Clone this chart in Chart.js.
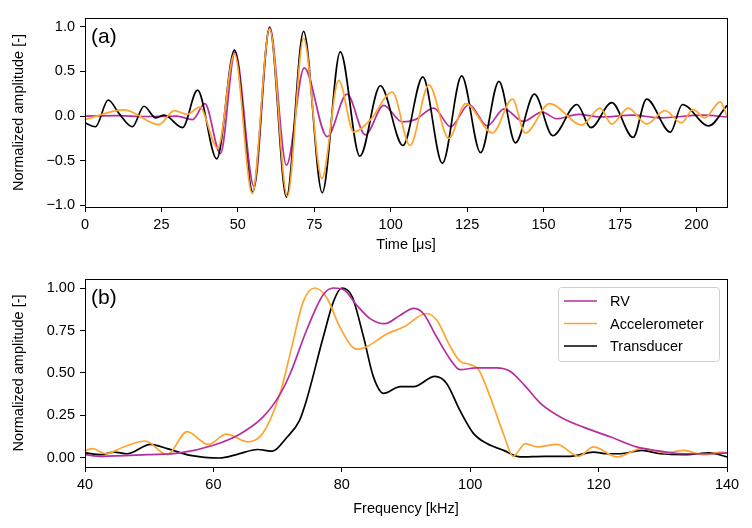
<!DOCTYPE html>
<html>
<head>
<meta charset="utf-8">
<script src="https://cdn.jsdelivr.net/npm/chart.js@4.4.1/dist/chart.umd.min.js"></script>
<style>
  body { margin: 0; background: #fff; }
  #wrap { position: relative; width: 752px; height: 528px; }
  .panel { position: absolute; left: 0; width: 752px; height: 264px; }
</style>
</head>
<body>
<div id="wrap">
  <div class="panel" style="top:0"><canvas id="chartA"></canvas></div>
  <div class="panel" style="top:264px"><canvas id="chartB"></canvas></div>
</div>
<script>
// (a) time signals, extrema
const rvTime  = [0, 10, 20, 30, 35.2, 39.2, 44.3, 49.1, 55.3, 60.4, 65.9, 71.7, 79.2, 85.7, 91.7, 97.7, 103.7, 108, 114.1, 119.6, 125.6, 131.6, 137.1, 143.3, 149.5, 154.3, 161.4, 168.5, 179.3, 188, 202, 210];
const rvAmp   = [0, 0.005, -0.005, 0, -0.04, 0.14, -0.42, 0.72, -0.79, 1.0, -0.55, 0.54, -0.23, 0.245, -0.21, 0.12, -0.065, -0.04, 0.09, -0.12, 0.13, -0.11, 0.08, -0.06, 0.045, -0.03, 0.02, -0.01, 0.01, -0.02, 0.01, -0.01];
const accTime = [0, 12.7, 24.2, 29.2, 33.5, 37.5, 43.4, 48.9, 54.7, 60.4, 66.2, 71.5, 77.5, 83, 87.9, 93.4, 100.5, 106.3, 112.5, 119, 124.5, 133.3, 139.8, 144, 152, 162.5, 168.5, 172.3, 177.7, 183.7, 189.7, 195.1, 198.9, 202.7, 207.8, 210];
const accAmp  = [-0.04, 0.07, -0.095, 0.06, 0.02, 0.10, -0.36, 0.70, -0.87, 0.98, -0.90, 0.87, -0.70, 0.40, -0.18, -0.04, 0.27, -0.33, 0.35, -0.25, 0.14, -0.19, 0.19, -0.19, 0.14, -0.10, 0.09, -0.09, 0.09, -0.09, 0.06, -0.075, 0.075, -0.02, 0.16, 0.0];
const trTime  = [0, 3.4, 7.6, 11.1, 15.5, 19.3, 23.1, 25.9, 31.9, 36.8, 43.1, 48.9, 54.9, 60.4, 65.9, 71.5, 77.6, 83.5, 89.9, 96.6, 104, 110.5, 116.9, 123.2, 129.4, 135.4, 140.8, 147, 153, 160.9, 165.5, 172.3, 179.3, 183.7, 191.5, 195.4, 204, 210];
const trAmp   = [-0.075, -0.12, 0.18, 0.03, -0.12, 0.11, -0.02, 0.01, -0.13, 0.29, -0.48, 0.74, -0.85, 0.99, -0.91, 0.95, -0.86, 0.72, -0.45, 0.34, -0.33, 0.44, -0.53, 0.45, -0.41, 0.39, -0.30, 0.245, -0.22, 0.13, -0.13, 0.15, -0.24, 0.19, -0.18, 0.13, -0.11, 0.12];

// (b) spectra
const rvFreq  = [40, 42.5, 49.7, 54.8, 60, 64.1, 67.7, 70.3, 72, 74.5, 77.1, 78.7, 80.3, 82.3, 84.4, 86.7, 89.1, 91.2, 92.7, 94.8, 96.9, 98.4, 101, 104.1, 106.2, 108.4, 111, 114.1, 117.7, 121.8, 125.9, 129.6, 133.2, 137.3, 140];
const rvSpec  = [0.02, 0.01, 0.02, 0.03, 0.075, 0.14, 0.24, 0.37, 0.50, 0.75, 0.96, 1.0, 0.99, 0.90, 0.82, 0.79, 0.84, 0.88, 0.85, 0.71, 0.58, 0.52, 0.53, 0.53, 0.51, 0.43, 0.32, 0.24, 0.18, 0.125, 0.065, 0.04, 0.025, 0.025, 0.03];
const accFreq = [40, 41.2, 43.2, 46, 49.4, 52.8, 55.9, 59.2, 62, 65.4, 67.7, 70.3, 72, 74, 75.8, 77.7, 79.7, 82.3, 83.9, 87, 89.6, 93.2, 94.8, 96.9, 98.4, 100, 101.3, 103.1, 105.2, 106.7, 108.6, 110.4, 113.5, 116.9, 119.2, 122.9, 126.7, 130.6, 133.2, 136.3, 139.4, 140];
const accSpec = [0.045, 0.055, 0.025, 0.065, 0.10, 0.02, 0.155, 0.08, 0.14, 0.095, 0.145, 0.37, 0.62, 0.92, 1.0, 0.94, 0.77, 0.64, 0.655, 0.73, 0.77, 0.85, 0.81, 0.655, 0.57, 0.55, 0.52, 0.36, 0.14, 0.01, 0.085, 0.065, 0.08, 0.01, 0.065, 0.006, 0.055, 0.03, 0.045, 0.02, 0.035, 0.03];
const trFreq  = [40, 42.5, 44.5, 46.6, 50.2, 52.8, 56.4, 61, 63.6, 66.9, 69.2, 71.3, 73.4, 74.5, 77.1, 78.7, 80, 81.6, 83.4, 84.9, 86.5, 89.1, 91.2, 94.5, 96.3, 98.4, 100.5, 102.6, 105.2, 107.8, 111.5, 115.6, 119.2, 121.3, 123.4, 126.7, 129.6, 133.7, 137.3, 140];
const trSpec  = [0.03, 0.02, 0.035, 0.025, 0.08, 0.055, 0.015, 0.0, 0.02, 0.05, 0.04, 0.115, 0.22, 0.34, 0.71, 0.92, 1.0, 0.95, 0.71, 0.48, 0.38, 0.42, 0.42, 0.48, 0.44, 0.28, 0.145, 0.085, 0.045, 0.006, 0.01, 0.01, 0.035, 0.025, 0.025, 0.045, 0.025, 0.02, 0.03, 0.006];

const seriesNames = ['RV', 'Accelerometer', 'Transducer'];
const timeTicks = [0, 25, 50, 75, 100, 125, 150, 175, 200];
const ampTicksA = [-1.0, -0.5, 0.0, 0.5, 1.0];
const freqTicks = [40, 60, 80, 100, 120, 140];
const ampTicksB = [0, 0.25, 0.5, 0.75, 1.0];

const PURPLE = '#b52e9f';
const ORANGE = '#ffa42e';
const BLACK = '#000000';

Chart.defaults.font.family = '"Liberation Sans", Arial, sans-serif';
Chart.defaults.font.size = 14.5;
Chart.defaults.color = '#000';

function pts(xs, ys) {
  return xs.map((x, i) => ({ x: x, y: ys[i] }));
}

function line(label, xs, ys, color) {
  return {
    label: label,
    data: pts(xs, ys),
    borderColor: color,
    backgroundColor: color,
    borderWidth: 1.7,
    pointRadius: 0,
    fill: false,
    cubicInterpolationMode: 'monotone'
  };
}

function fmt(v, digits) {
  return v.toFixed(digits).replace('-', '\u2212');
}

const framePlugin = {
  id: 'frame',
  afterDraw(chart, args, opts) {
    const { ctx, chartArea: a } = chart;
    ctx.save();
    ctx.strokeStyle = '#000';
    ctx.lineWidth = 1;
    ctx.strokeRect(Math.round(a.left) + 0.5, Math.round(a.top) + 0.5,
      Math.round(a.right - a.left), Math.round(a.bottom - a.top));
    ctx.fillStyle = '#000';
    ctx.font = '21px "Liberation Sans", Arial, sans-serif';
    ctx.textBaseline = 'top';
    ctx.fillText(opts.tag, a.left + 6, a.top + 9);

    if (opts.legend) {
      const w = 161, h = 74;
      const x = a.right - 8 - w, y = a.top + 8;
      ctx.beginPath();
      ctx.roundRect(x + 0.5, y + 0.5, w, h, 3);
      ctx.fillStyle = 'rgba(255,255,255,0.8)';
      ctx.fill();
      ctx.strokeStyle = '#d0d0d0';
      ctx.stroke();
      ctx.font = '14.5px "Liberation Sans", Arial, sans-serif';
      ctx.textBaseline = 'middle';
      chart.data.datasets.forEach((ds, i) => {
        const ly = y + 14 + i * 22.5;
        ctx.strokeStyle = ds.borderColor;
        ctx.lineWidth = 1.7;
        ctx.beginPath();
        ctx.moveTo(x + 6, ly);
        ctx.lineTo(x + 39, ly);
        ctx.stroke();
        ctx.fillStyle = '#000';
        ctx.fillText(ds.label, x + 52, ly + 1);
      });
    }
    ctx.restore();
  }
};

function axes(xMin, xMax, xTicks, xTitle, yMin, yMax, yTicks, yDigits, xHeight) {
  return {
    x: {
      type: 'linear',
      min: xMin,
      max: xMax,
      afterBuildTicks: s => { s.ticks = xTicks.map(v => ({ value: v })); },
      afterFit: s => { s.height = xHeight; },
      grid: { drawOnChartArea: false, drawTicks: true, tickLength: 5, color: '#000' },
      border: { display: true, color: '#000' },
      ticks: { padding: 4, maxRotation: 0, callback: v => String(v) },
      title: { display: true, text: xTitle, padding: { top: 0, bottom: 10 } }
    },
    y: {
      type: 'linear',
      min: yMin,
      max: yMax,
      afterBuildTicks: s => { s.ticks = yTicks.map(v => ({ value: v })); },
      afterFit: s => { s.width = 85; },
      grid: { drawOnChartArea: false, drawTicks: true, tickLength: 5, color: '#000' },
      border: { display: true, color: '#000' },
      ticks: { padding: 5, callback: v => fmt(v, yDigits) },
      title: { display: true, text: 'Normalized amplitude [-]', padding: { top: 10, bottom: 0 } }
    }
  };
}

new Chart(document.getElementById('chartA'), {
  type: 'line',
  data: {
    datasets: [
      line(seriesNames[1], accTime, accAmp, ORANGE),
      line(seriesNames[2], trTime, trAmp, BLACK),
      line(seriesNames[0], rvTime, rvAmp, PURPLE)
    ]
  },
  options: {
    responsive: true,
    maintainAspectRatio: false,
    animation: false,
    layout: { padding: { top: 18, right: 25, left: 0, bottom: 0 } },
    plugins: { legend: { display: false }, tooltip: { enabled: false }, frame: { tag: '(a)' } },
    scales: axes(0, 210, timeTicks, 'Time [\u03bcs]', -1.02, 1.10, ampTicksA, 1, 57)
  },
  plugins: [framePlugin]
});

new Chart(document.getElementById('chartB'), {
  type: 'line',
  data: {
    datasets: [
      line(seriesNames[0], rvFreq, rvSpec, PURPLE),
      line(seriesNames[1], accFreq, accSpec, ORANGE),
      line(seriesNames[2], trFreq, trSpec, BLACK)
    ]
  },
  options: {
    responsive: true,
    maintainAspectRatio: false,
    animation: false,
    layout: { padding: { top: 15, right: 25, left: 0, bottom: 0 } },
    plugins: { legend: { display: false }, tooltip: { enabled: false }, frame: { tag: '(b)', legend: true } },
    scales: axes(40, 140, freqTicks, 'Frequency [kHz]', -0.053, 1.053, ampTicksB, 2, 61)
  },
  plugins: [framePlugin]
});
</script>
</body>
</html>
